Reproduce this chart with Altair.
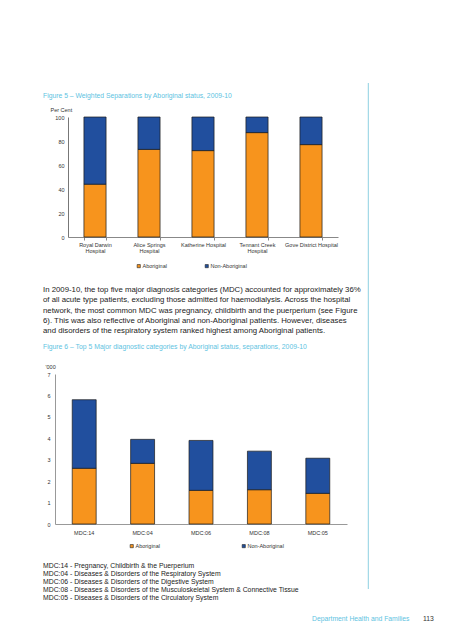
import altair as alt
import pandas as pd

FONT = "Liberation Sans"
ORANGE = "#F7941D"
BLUE = "#214F9E"
LIGHT_BLUE = "#5EC3DF"
RULE_BLUE = "#8ED0E2"
STATUS = ["Aboriginal", "Non-Aboriginal"]

# ---- Figure 5 data ----
hospitals = ["Royal Darwin\nHospital", "Alice Springs\nHospital", "Katherine Hospital",
             "Tennant Creek\nHospital", "Gove District Hospital"]
aboriginal_pct = [44, 73, 72, 87, 77]
non_aboriginal_pct = [56, 27, 28, 13, 23]
pct_ticks = [0, 20, 40, 60, 80, 100]

# ---- Figure 6 data ('000 separations) ----
mdc = ["MDC:14", "MDC:04", "MDC:06", "MDC:08", "MDC:05"]
aboriginal_k = [2.6, 2.83, 1.57, 1.6, 1.43]
non_aboriginal_k = [3.2, 1.12, 2.33, 1.8, 1.64]
k_ticks = [0, 1, 2, 3, 4, 5, 6, 7]

fig5_title = "Figure 5 \u2013 Weighted Separations by Aboriginal status, 2009-10"
fig6_title = "Figure 6 \u2013 Top 5 Major diagnostic categories by Aboriginal status, separations, 2009-10"
paragraph = [
    "In 2009-10, the top five major diagnosis categories (MDC) accounted for approximately 36%",
    "of all acute type patients, excluding those admitted for haemodialysis. Across the hospital",
    "network, the most common MDC was pregnancy, childbirth and the puerperium (see Figure",
    "6). This was also reflective of Aboriginal and non-Aboriginal patients. However, diseases",
    "and disorders of the respiratory system ranked highest among Aboriginal patients.",
]
notes = [
    "MDC:14 - Pregnancy, Childbirth & the Puerperium",
    "MDC:04 - Diseases & Disorders of the Respiratory System",
    "MDC:06 - Diseases & Disorders of the Digestive System",
    "MDC:08 - Diseases & Disorders of the Musculoskeletal System & Connective Tissue",
    "MDC:05 - Diseases & Disorders of the Circulatory System",
]
footer_left = "Department Health and Families"
footer_page = "113"

df1 = pd.DataFrame({
    "hospital": hospitals * 2,
    "status": [STATUS[0]] * 5 + [STATUS[1]] * 5,
    "value": aboriginal_pct + non_aboriginal_pct,
    "ord": [0] * 5 + [1] * 5,
})
df2 = pd.DataFrame({
    "mdc": mdc * 2,
    "status": [STATUS[0]] * 5 + [STATUS[1]] * 5,
    "value": aboriginal_k + non_aboriginal_k,
    "ord": [0] * 5 + [1] * 5,
})


def legend(x, y, pad):
    return alt.Legend(title=None, orient="none", legendX=x, legendY=y, direction="horizontal",
                      symbolType="square", symbolSize=10, symbolStrokeColor="#222",
                      symbolStrokeWidth=0.6, labelFont=FONT, labelFontSize=5.5,
                      labelColor="#333", labelOffset=1, columnPadding=pad)


def text_block(lines, x, y, size, color, line_height=10):
    d = pd.DataFrame({"t": ["\n".join(lines)]})
    return alt.Chart(d).mark_text(
        align="left", baseline="alphabetic", lineBreak="\n", lineHeight=line_height,
        font=FONT, fontSize=size, color=color
    ).encode(x=alt.value(x), y=alt.value(y), text="t:N")


# ---------- Panel 1: Figure 5 ----------
bars1 = alt.Chart(df1).mark_bar(stroke="#1a1a1a", strokeWidth=0.7).encode(
    x=alt.X("hospital:N", sort=hospitals,
            scale=alt.Scale(paddingInner=0.59, paddingOuter=0.295),
            axis=alt.Axis(title=None, labelExpr="split(datum.label, '\\n')", labelAngle=0,
                          labelFont=FONT, labelFontSize=5.5, labelColor="#333",
                          labelPadding=2, labelLineHeight=6.5, ticks=True, tickBand="extent",
                          tickSize=3, tickColor="#888", domainColor="#888")),
    y=alt.Y("value:Q", stack="zero", scale=alt.Scale(domain=[0, 100]),
            axis=alt.Axis(title="Per Cent", values=pct_ticks, ticks=False, grid=False,
                          labelFont=FONT, labelFontSize=5.5, labelColor="#333", labelPadding=4,
                          domainColor="#777", titleAngle=0, titleX=-18, titleY=-6,
                          titleAlign="left", titleBaseline="alphabetic", titleFont=FONT,
                          titleFontSize=5.5, titleFontWeight="normal", titleColor="#333")),
    color=alt.Color("status:N", scale=alt.Scale(domain=STATUS, range=[ORANGE, BLUE]),
                    legend=legend(68, 146, 36)),
    order=alt.Order("ord:Q"),
)
rule = alt.Chart(pd.DataFrame({"a": [0]})).mark_rule(color=RULE_BLUE, strokeWidth=1).encode(
    x=alt.value(300.3), y=alt.value(-34), y2=alt.value(472))
p1 = alt.layer(
    bars1,
    text_block([fig5_title], -25, -18.7, 6.8, LIGHT_BLUE),
    rule,
).properties(width=270, height=120)

# ---------- Panel 2: paragraph + Figure 6 title ----------
p2 = alt.layer(
    text_block(paragraph, -25, 55, 7.8, "#222", 10.25),
    text_block([fig6_title], -25, 112.3, 6.85, LIGHT_BLUE),
).properties(width=270, height=137)

# ---------- Panel 3: Figure 6 ----------
bars2 = alt.Chart(df2).mark_bar(stroke="#1a1a1a", strokeWidth=0.7).encode(
    x=alt.X("mdc:N", sort=mdc,
            scale=alt.Scale(paddingInner=0.59, paddingOuter=0.295, range=[-13, 279]),
            axis=alt.Axis(title=None, labelAngle=0, labelFont=FONT, labelFontSize=5.5,
                          labelColor="#333", labelPadding=6, ticks=False, domainColor="#999")),
    y=alt.Y("value:Q", stack="zero", scale=alt.Scale(domain=[0, 7]),
            axis=alt.Axis(title="'000", values=k_ticks, ticks=False, grid=False, offset=13,
                          labelFont=FONT, labelFontSize=5.5, labelColor="#333", labelPadding=5,
                          domainColor="#999", titleAngle=0, titleX=-10, titleY=-6,
                          titleAlign="left", titleBaseline="alphabetic", titleFont=FONT,
                          titleFontSize=5.5, titleFontWeight="normal", titleColor="#333")),
    color=alt.Color("status:N", scale=alt.Scale(domain=STATUS, range=[ORANGE, BLUE]),
                    legend=legend(61, 169, 80)),
    order=alt.Order("ord:Q"),
)
p3 = bars2.properties(width=270, height=150)

# ---------- Panel 4: notes + footer ----------
p4 = alt.layer(
    text_block(notes, -25, 44.4, 6.85, "#222", 7.9),
    text_block([footer_left], 244, 97, 6.8, LIGHT_BLUE),
    text_block([footer_page], 355, 97, 6.8, "#333"),
).properties(width=270, height=100)

chart = alt.vconcat(p1, p2, p3, p4, spacing=0, bounds="flush").resolve_scale(
    color="independent").resolve_legend(color="independent").properties(
    padding={"left": 35, "top": 74, "right": 5, "bottom": 5}
).configure_view(stroke=None)

chart.save("out.html", embed_options={"renderer": "svg", "actions": False})
